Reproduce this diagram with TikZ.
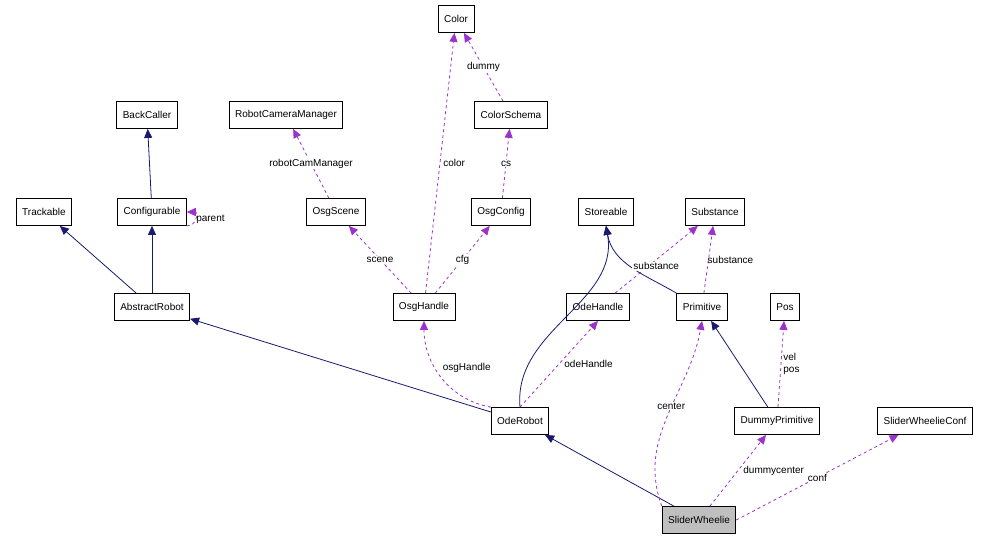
\documentclass[tikz,border=0pt]{standalone}
\usepackage{fontspec}
\setmainfont{Liberation Sans}
\usetikzlibrary{arrows.meta}
\definecolor{midnight}{RGB}{25,25,112}
\definecolor{usecol}{RGB}{155,50,205}
\tikzset{
  cls/.style={draw, thick, fill=white, minimum height=27pt, inner xsep=6pt, font=\fontsize{10}{12}\selectfont},
  inh/.style={draw=midnight, thick, -{Triangle[length=9pt,width=8pt,fill=midnight]}},
  use/.style={draw=usecol, thick, dashed, -{Triangle[length=9pt,width=8pt,fill=usecol]}},
  lbl/.style={font=\fontsize{10}{12}\selectfont, fill=white, inner sep=1pt}
}
\begin{document}
\begin{tikzpicture}[x=1pt,y=-1pt]

        \useasboundingbox (0,0) rectangle (995,539);

        % Classes
        \node[cls] (color) at (456,19) {Color};
        \node[cls] (colorschema) at (511,115) {ColorSchema};
        \node[cls] (backcaller) at (147,115) {BackCaller};
        \node[cls] (camman) at (286,115) {RobotCameraManager};
        \node[cls] (trackable) at (44,212) {Trackable};
        \node[cls] (configurable) at (152,212) {Configurable};
        \node[cls] (osgscene) at (336,212) {OsgScene};
        \node[cls] (osgconfig) at (501,212) {OsgConfig};
        \node[cls] (storeable) at (606,212) {Storeable};
        \node[cls] (substance) at (715,212) {Substance};
        \node[cls] (abstractrobot) at (152,307) {AbstractRobot};
        \node[cls] (osghandle) at (424,307) {OsgHandle};
        \node[cls] (odehandle) at (598,307) {OdeHandle};
        \node[cls] (primitive) at (702,307) {Primitive};
        \node[cls] (pos) at (785,307) {Pos};
        \node[cls] (oderobot) at (520,421) {OdeRobot};
        \node[cls] (dummyprim) at (777,421) {DummyPrimitive};
        \node[cls] (wheelieconf) at (925,421) {SliderWheelieConf};
        \node[cls, fill=gray!50] (wheelie) at (699,520) {SliderWheelie};

        % Inheritance
        \draw[inh] (configurable) -- (backcaller);
        \draw[inh] (abstractrobot) -- (trackable);
        \draw[inh] (abstractrobot) -- (configurable);
        \draw[inh] (oderobot) -- (abstractrobot);
        \draw[inh] (oderobot.north) to[out=95,in=-80] (storeable.south);
        \draw[inh] (primitive.north west) to[out=150,in=-80] (storeable.south);
        \draw[inh] (dummyprim) -- (primitive);
        \draw[inh] (wheelie) -- (oderobot);

        % Usage
        \draw[use] (configurable.south east) to[out=0,in=0,looseness=2] node[lbl, right, fill=none] {parent} (configurable.east);
        \draw[use] (colorschema) -- node[lbl] {dummy} (color);
        \draw[use] (osghandle) -- node[lbl, pos=0.5, right=2pt, fill=none] {color} (color);
        \draw[use] (osgscene) -- node[lbl] {robotCamManager} (camman);
        \draw[use] (osgconfig) -- node[lbl] {cs} (colorschema);
        \draw[use] (osghandle) -- node[lbl] {scene} (osgscene);
        \draw[use] (osghandle) -- node[lbl] {cfg} (osgconfig);
        \draw[use] (odehandle) -- node[lbl, pos=0.4, xshift=8pt] {substance} (substance);
        \draw[use] (primitive) -- node[lbl, pos=0.5, xshift=22pt, fill=none] {substance} (substance);
        \draw[use] (oderobot.north west) to[out=170,in=-90] node[lbl, pos=0.6, right=6pt] {osgHandle} (osghandle.south);
        \draw[use] (oderobot.north) -- node[lbl, right=4pt] {odeHandle} (odehandle.south);
        \draw[use] (dummyprim) -- node[lbl, align=left, right=1pt, fill=none] {vel\\pos} (pos);
        \draw[use] (wheelie.north west) to[out=110,in=-100] node[lbl, pos=0.55] {center} (primitive.south);
        \draw[use] (wheelie) -- node[lbl, right=4pt] {dummycenter} (dummyprim);
        \draw[use] (wheelie.east) -- node[lbl] {conf} (wheelieconf);

\end{tikzpicture}
\end{document}
